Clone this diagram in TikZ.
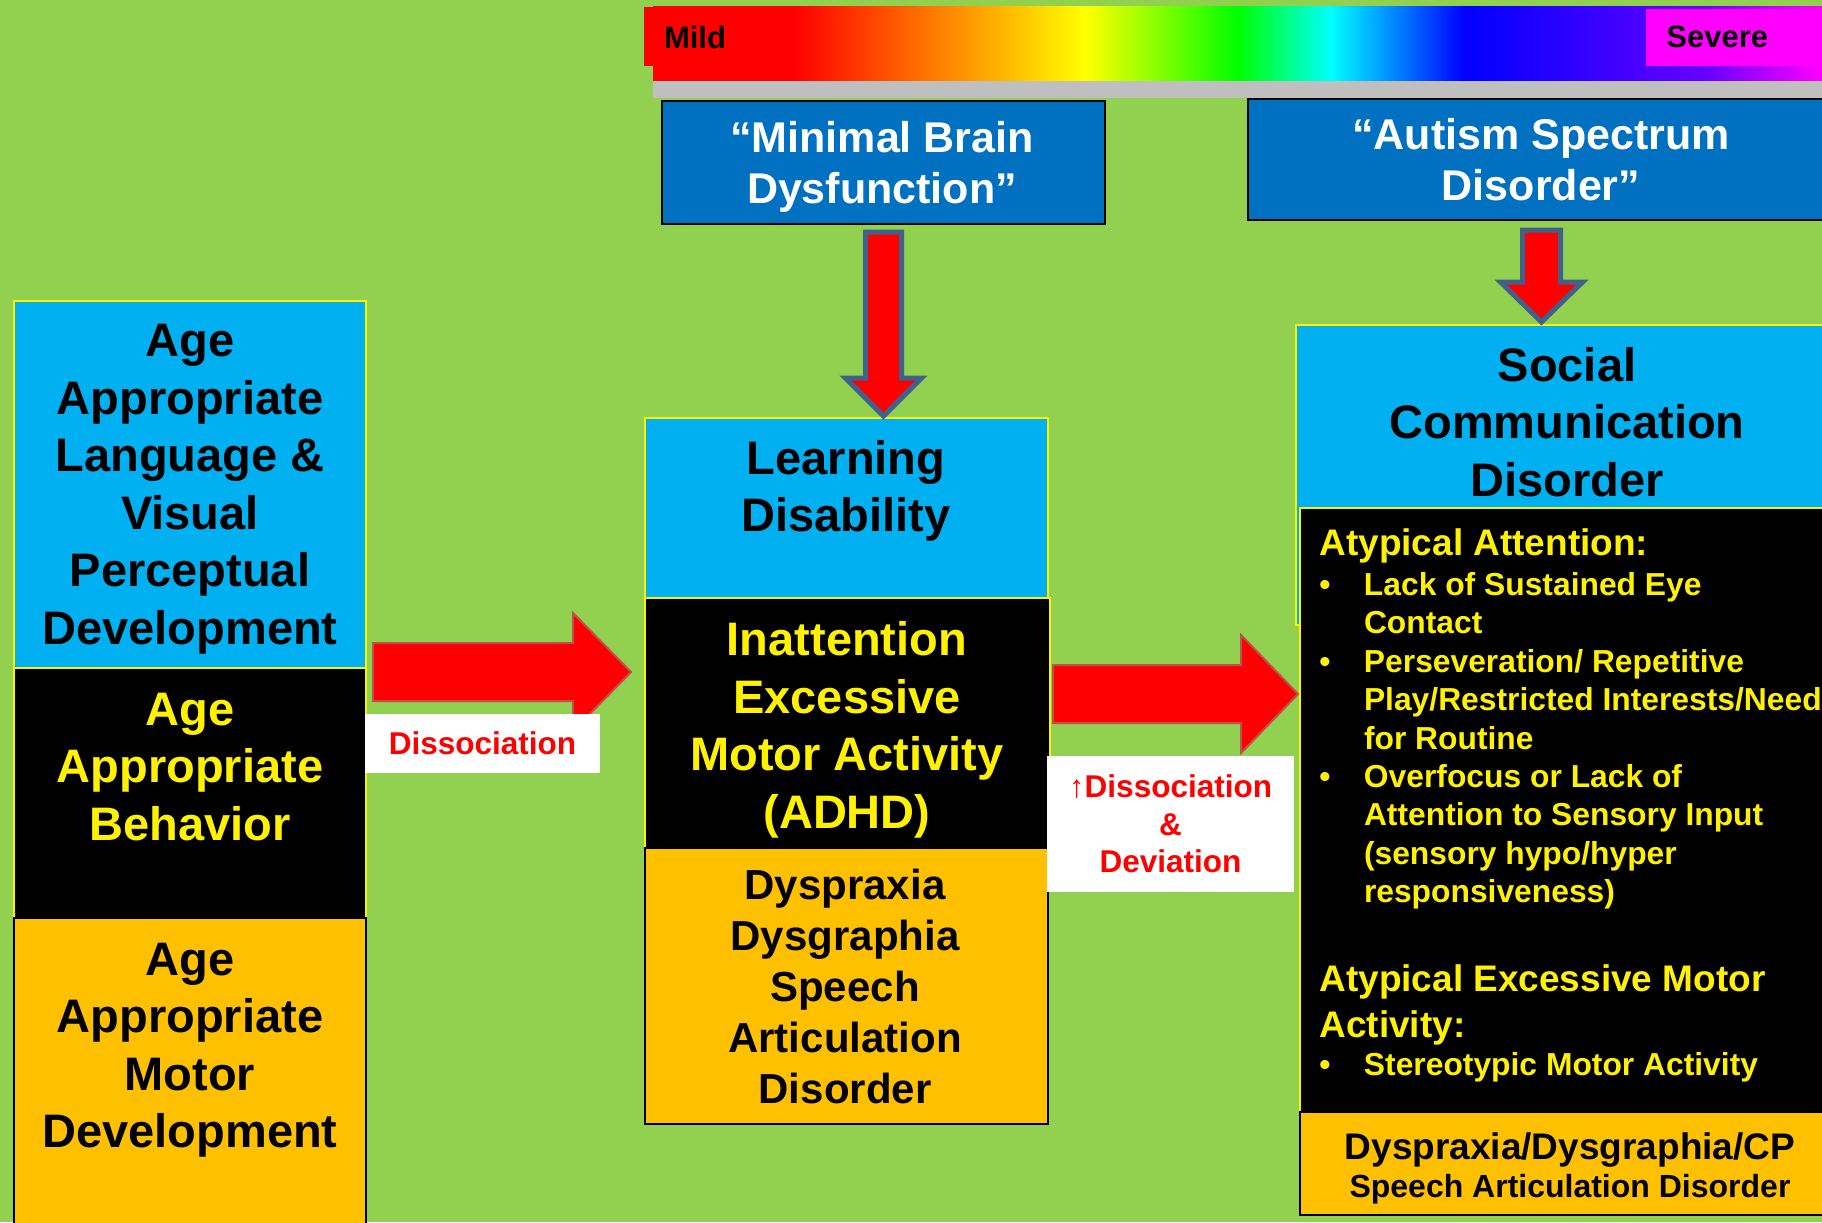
\documentclass[tikz,border=0pt]{standalone}
\usepackage{fontspec}
\setmainfont{Liberation Sans}
\usetikzlibrary{calc,positioning}

\definecolor{bggreen}{HTML}{92D050}
\definecolor{skyblue}{HTML}{00B0F0}
\definecolor{amber}{HTML}{FFC000}
\definecolor{deepblue}{HTML}{0070C0}
\definecolor{slate}{RGB}{65,96,138}
\definecolor{brick}{HTML}{C0504D}
\definecolor{shadowgray}{HTML}{BFBFBF}
\definecolor{spvio}{HTML}{6600FF}
\definecolor{hotpink}{HTML}{FF00FF}

% mild -> severe colour bar
\pgfdeclarehorizontalshading{spectrum}{100bp}{color(0bp)=(red); color(31bp)=(red);
  color(43.5bp)=(yellow); color(50bp)=(green); color(54bp)=(cyan);
  color(59.7bp)=(blue); color(70bp)=(spvio); color(75bp)=(hotpink); color(100bp)=(hotpink)}

\newcommand{\fsz}[2]{\fontsize{#1}{#2}\selectfont}
\newcommand{\bul}{\makebox[22.3pt][l]{•}}
\newcommand{\ind}{\hspace*{22.3pt}}

% block arrows: start, tip, shaft half width, head half width, head length
\newcommand{\varrowblk}[5]{%
  \filldraw[varrow] ($(#1)+(-#3,0)$) -- ($(#2)+(-#3,-#5)$) -- ($(#2)+(-#4,-#5)$) -- (#2)
    -- ($(#2)+(#4,-#5)$) -- ($(#2)+(#3,-#5)$) -- ($(#1)+(#3,0)$) -- cycle;}
\newcommand{\harrowblk}[5]{%
  \filldraw[harrow] ($(#1)+(0,-#3)$) -- ($(#2)+(-#5,-#3)$) -- ($(#2)+(-#5,-#4)$) -- (#2)
    -- ($(#2)+(-#5,#4)$) -- ($(#2)+(-#5,#3)$) -- ($(#1)+(0,#3)$) -- cycle;}

\tikzset{
  box/.style={rectangle, inner sep=0pt, outer sep=0pt, anchor=north west, line width=0.75pt},
  bigtxt/.style={align=center, inner sep=0pt, font=\bfseries\fsz{23.5}{28.75}},
  toptxt/.style={align=center, inner sep=0pt, text=white, font=\bfseries\fsz{21.5}{25.5}},
  listtxt/.style={anchor=north west, align=left, inner sep=0pt, text=yellow},
  headfont/.style={font=\bfseries\fsz{18.5}{23}},
  itemfont/.style={font=\bfseries\fsz{15.9}{19.2}},
  lbl/.style={fill=white, text=red, align=center, inner sep=0pt,
    font=\bfseries\fsz{15.75}{18.75}},
  varrow/.style={fill=red, draw=slate, line width=2.5pt},
  harrow/.style={fill=red, draw=brick, line width=1pt},
}

\begin{document}
\begin{tikzpicture}[x=0.5pt, y=-0.5pt]
  \useasboundingbox (0,0) rectangle (1822,1222);
  \fill[bggreen] (0,0) rectangle (1822,1222);

  % severity bar
  \fill[shadowgray] (653,76) rectangle (1822,98);
  \node[box, shade, shading=spectrum, minimum width=584.5pt, minimum height=37pt] (spec) at (653,6) {};
  \node[box, fill=red, minimum width=75pt, minimum height=29.5pt] (mild) at (644,7) {};
  \node[box, fill=hotpink, minimum width=97pt, minimum height=28.5pt] (severe) at (1646,9) {};
  \node[inner sep=0pt, font=\bfseries\fsz{15.5}{18}] (mildtxt) at (695,37) {Mild};
  \node[inner sep=0pt, anchor=west, font=\bfseries\fsz{15.5}{18}] (severetxt) at (1666,37) {Severe};

  % top labels
  \node[box, draw=black, line width=1pt, fill=deepblue, minimum width=221.5pt, minimum height=61.5pt] (mbd) at (662,101) {};
  \node[box, draw=black, line width=1pt, fill=deepblue, minimum width=293.5pt, minimum height=60.5pt] (asd) at (1248,99) {};
  \node[toptxt] (mbdtxt) at (882,167) {“Minimal Brain\\Dysfunction”};
  \node[toptxt] (asdtxt) at (1541,160) {“Autism Spectrum\\Disorder”};

  % left column
  \node[box, draw=yellow, fill=skyblue, minimum width=176pt, minimum height=183.5pt] (lang) at (14,301) {};
  \node[box, draw=yellow, fill=black, minimum width=176pt, minimum height=125pt] (behav) at (14,668) {};
  \node[box, draw=black, fill=amber, minimum width=176pt, minimum height=161pt] (motor) at (14,918) {};
  \node[bigtxt] (langtxt) at (190,489) {Age\\Appropriate\\Language \&\\Visual\\Perceptual\\Development};
  \node[bigtxt, text=yellow] (behavtxt) at (190,767) {Age\\Appropriate\\Behavior};
  \node[bigtxt] (motortxt) at (190,1050) {Age\\Appropriate\\Motor\\Development};

  % middle column
  \node[box, draw=yellow, fill=skyblue, minimum width=201.5pt, minimum height=90pt] (ld) at (645,418) {};
  \node[box, draw=yellow, fill=black, minimum width=202.5pt, minimum height=125pt] (adhd) at (645,598) {};
  \node[box, draw=black, fill=amber, minimum width=201.5pt, minimum height=138pt] (dysp) at (645,848) {};
  \node[bigtxt] (ldtxt) at (846,491) {Learning\\Disability};
  \node[bigtxt, text=yellow] (adhdtxt) at (847,730) {Inattention\\Excessive\\Motor Activity\\(ADHD)};
  \node[bigtxt, font=\bfseries\fsz{21}{25.5}] (dysptxt) at (845,986) {Dyspraxia\\Dysgraphia\\Speech\\Articulation\\Disorder};

  % right column
  \node[box, draw=yellow, fill=skyblue, minimum width=272pt, minimum height=150pt] (scd) at (1296,325) {};
  \node[box, draw=yellow, fill=black, minimum width=270pt, minimum height=302pt] (atyp) at (1300,508) {};
  \node[box, draw=black, fill=amber, minimum width=270pt, minimum height=51.5pt] (artic) at (1300,1112) {};
  \node[bigtxt] (scdtxt) at (1567,422) {Social\\Communication\\Disorder};
  \node[listtxt, headfont] (atthead) at (1319,528) {Atypical Attention:};
  \node[listtxt, itemfont] (attlist) at (1319,572) {\bul Lack of Sustained Eye\\\ind Contact\\\bul Perseveration/ Repetitive\\\ind Play/Restricted Interests/Need\\\ind for Routine\\\bul Overfocus or Lack of\\\ind Attention to Sensory Input\\\ind (sensory hypo/hyper\\\ind responsiveness)};
  \node[listtxt, headfont] (motorhead) at (1319,964) {Atypical Excessive Motor\\Activity:};
  \node[listtxt, itemfont] (motorlist) at (1319,1052) {\bul Stereotypic Motor Activity};
  \node[inner sep=0pt, font=\bfseries\fsz{18.5}{22}] (artictxt) at (1570,1150) {Dyspraxia/Dysgraphia/CP};
  \node[inner sep=0pt, font=\bfseries\fsz{16}{19}] (speechtxt) at (1570,1189) {Speech Articulation Disorder};

  % arrows down from the old and new names
  \coordinate (v1s) at ($(mbd.south)+(0,8)$);
  \coordinate (v1t) at ($(mbd.south |- ld.north)+(0,-2)$);
  \varrowblk{v1s}{v1t}{18}{38}{38}
  \coordinate (v2s) at ($(asd.south)+(0,10)$);
  \coordinate (v2t) at ($(asd.south |- scd.north)+(0,-3)$);
  \varrowblk{v2s}{v2t}{19}{41}{40}

  % arrows across
  \coordinate (h1s) at ($(lang.south east)+(7,4)$);
  \coordinate (h1t) at ($(ld.west |- h1s)+(-14,0)$);
  \harrowblk{h1s}{h1t}{29}{59}{58}
  \coordinate (h2s) at ($(adhd.north east)+(3,96)$);
  \coordinate (h2t) at ($(atyp.west |- h2s)+(-2,0)$);
  \harrowblk{h2s}{h2t}{29}{59}{57}

  \node[lbl, minimum width=117.5pt, minimum height=29.5pt] (diss) at (482.5,743.5) {Dissociation};
  \node[lbl, minimum width=123.5pt, minimum height=68pt] (dissdev) at (1170.5,824) {{\mdseries ↑}Dissociation\\\&\\Deviation};
\end{tikzpicture}
\end{document}
